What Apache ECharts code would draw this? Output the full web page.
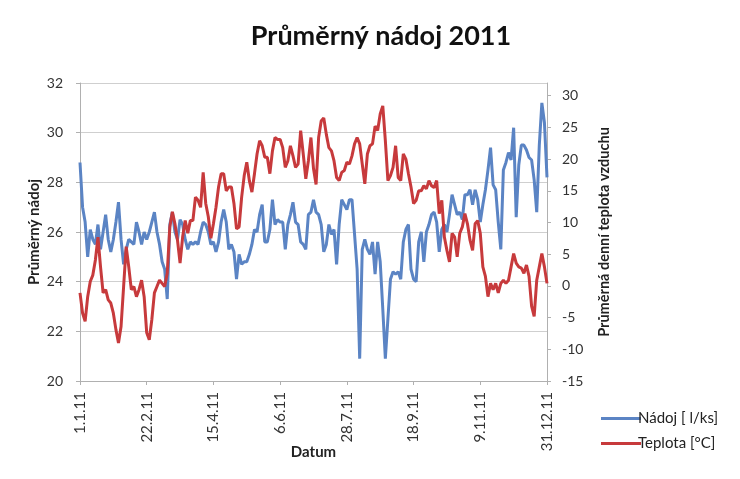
<!DOCTYPE html>
<html>
<head>
<meta charset="utf-8">
<script src="https://cdn.jsdelivr.net/npm/echarts@6/dist/echarts.min.js"></script>
<style>
html,body{margin:0;padding:0;background:#fff;}
#chart{width:740px;height:479px;}
</style>
</head>
<body>
<div id="chart"></div>
<script>
// Sample every 2 days from 1.1.2011 (day 0) to 31.12.2011 (day 364)
const tickLabels = ['1.1.11','22.2.11','15.4.11','6.6.11','28.7.11','18.9.11','9.11.11','31.12.11'];
const sampleStepDays = 2;
const nadoj = [
28.8,27.0,26.4,25.0,26.1,25.7,25.5,26.3,25.3,26.0,
26.7,25.7,25.2,25.7,26.4,27.2,25.7,24.7,25.3,25.7,
25.6,25.5,26.4,26.0,25.5,26.0,25.7,26.0,26.4,26.8,
26.0,25.5,24.8,24.5,23.3,26.3,26.8,26.0,25.7,26.5,
26.3,25.7,25.3,25.6,25.5,25.6,25.5,26.0,26.4,26.3,
26.0,25.5,25.6,25.2,25.6,26.4,26.9,26.4,25.3,25.5,
25.2,24.1,25.1,24.7,24.8,24.8,25.1,25.5,26.1,26.0,
26.7,27.1,25.6,25.6,26.1,27.3,26.3,26.5,26.4,26.4,
25.3,26.3,26.7,27.2,26.4,26.3,25.6,25.5,25.3,26.7,
26.8,27.3,26.8,26.7,26.3,25.2,25.5,26.3,25.9,26.1,
24.7,26.3,27.3,27.1,26.9,27.3,27.3,25.9,24.5,20.9,
25.3,25.7,25.3,25.1,25.6,24.3,25.6,24.8,22.9,20.9,
22.5,24.1,24.4,24.3,24.4,24.1,25.6,26.1,26.3,24.5,
24.1,24.0,25.6,26.0,24.8,26.0,26.3,26.7,26.8,26.4,
25.2,26.1,26.3,26.0,26.7,27.5,27.1,26.7,26.8,26.5,
27.5,27.5,27.7,27.1,27.7,27.3,26.4,27.1,27.7,28.5,
29.4,27.9,27.7,26.4,25.3,28.5,28.8,29.2,28.9,30.2,
26.6,28.7,29.5,29.5,29.3,29.0,28.9,28.1,26.8,29.5,
31.2,30.4,28.2
];
const teplota = [
-1.1,-4.3,-5.6,-1.7,0.7,1.7,4.1,7.7,3.0,-1.1,
-0.6,-2.2,-2.7,-4.3,-6.9,-9.0,-6.4,-0.1,6.2,3.0,
-0.6,-0.1,-1.7,-0.6,0.9,-1.7,-7.4,-8.5,-5.3,-1.1,
-0.1,0.9,0.4,-0.1,2.0,9.3,11.7,9.8,7.2,3.6,
7.7,10.3,8.3,10.3,10.3,14.0,13.5,12.4,17.9,13.0,
10.9,7.5,9.8,12.4,15.6,17.7,17.7,15.0,15.6,15.6,
13.0,9.0,9.3,14.0,17.4,19.5,16.6,14.8,17.7,20.8,
22.9,22.1,20.3,20.3,17.7,21.3,23.4,23.1,23.1,21.8,
18.7,19.7,22.1,20.5,18.7,19.2,24.5,20.8,16.9,19.7,
23.4,18.5,16.0,23.4,26.0,26.5,23.9,21.8,21.3,19.7,
17.1,16.6,17.9,18.2,19.5,19.2,20.5,22.4,23.4,22.4,
19.2,16.1,20.8,22.1,22.4,25.2,24.5,27.1,28.4,22.9,
16.6,17.4,18.7,22.1,17.1,16.6,20.8,20.0,17.7,15.6,
13.0,13.5,15.0,15.0,15.8,15.3,16.6,15.8,15.5,16.6,
11.4,13.5,7.7,5.6,3.8,8.3,7.7,4.6,8.3,9.3,
11.4,9.8,7.2,5.6,9.8,10.3,8.3,3.0,1.5,-1.7,
0.4,-0.6,0.4,-1.1,0.4,0.9,0.4,0.9,3.0,5.1,
3.6,3.0,2.8,2.0,3.3,1.5,-3.2,-4.8,0.9,3.0,
5.1,3.0,0.4
];
const seriesNames = ['Nádoj [ l/ks]', 'Teplota [°C]'];
const rightAxisTitle = 'Průměrná denní teplota vzduchu';

const toPairs = arr => arr.map((v, i) => [i * sampleStepDays, v]);
const FONT = 'Lato, "Open Sans", sans-serif';

const chart = echarts.init(document.getElementById('chart'), null, {renderer: 'canvas'});
chart.setOption({
  animation: false,
  backgroundColor: '#ffffff',
  title: {
    text: 'Průměrný nádoj 2011',
    left: 376, top: 18, textAlign: 'center',
    textStyle: {fontFamily: FONT, fontWeight: 'bold', fontSize: 27, color: '#111'}
  },
  graphic: [{
    type: 'text', x: 604, y: 232, rotation: Math.PI / 2,
    style: {text: rightAxisTitle, fontFamily: FONT, fontWeight: 'bold', fontSize: 14.5,
            fill: '#222', align: 'center', verticalAlign: 'middle'}
  }],
  legend: {
    orient: 'vertical', left: 596, top: 406, itemGap: 10,
    itemWidth: 40, itemHeight: 3, icon: 'rect',
    textStyle: {fontFamily: FONT, fontSize: 15, color: '#222', padding: [0,0,0,-8]},
    data: seriesNames
  },
  grid: {left: 80, right: 193, top: 83, bottom: 98, containLabel: false},
  xAxis: {
    type: 'value', min: 0, max: 364, interval: 52,
    name: 'Datum', nameLocation: 'middle', nameGap: 64, nameMoveOverlap: false,
    nameTextStyle: {fontFamily: FONT, fontWeight: 'bold', fontSize: 15, color: '#222'},
    axisLine: {onZero: false, lineStyle: {color: '#b0b0b0'}},
    axisTick: {show: true, length: 4, lineStyle: {color: '#b0b0b0'}},
    splitLine: {show: false},
    axisLabel: {
      rotate: 90, fontFamily: FONT, fontSize: 15, color: '#333', margin: 11,
      formatter: v => tickLabels[Math.round(v / 52)] || ''
    }
  },
  yAxis: [
    {
      type: 'value', min: 20, max: 32, interval: 2, position: 'left',
      name: 'Průměrný nádoj', nameLocation: 'middle', nameGap: 38, nameRotate: 90, nameMoveOverlap: false,
      nameTextStyle: {fontFamily: FONT, fontWeight: 'bold', fontSize: 15, color: '#222'},
      axisLine: {show: true, lineStyle: {color: '#b0b0b0'}},
      axisTick: {show: true, length: 4, lineStyle: {color: '#b0b0b0'}},
      axisLabel: {fontFamily: FONT, fontSize: 14, color: '#333', margin: 17},
      splitLine: {lineStyle: {color: '#cfcfcf'}}
    },
    {
      type: 'value', min: -15, max: 32, interval: 5, position: 'right',
      axisLine: {show: true, lineStyle: {color: '#b0b0b0'}},
      axisTick: {show: true, length: 4, lineStyle: {color: '#b0b0b0'}},
      axisLabel: {fontFamily: FONT, fontSize: 14, color: '#333', margin: 15, showMaxLabel: false},
      splitLine: {show: false}
    }
  ],
  series: [
    {
      name: seriesNames[0], type: 'line', yAxisIndex: 0, data: toPairs(nadoj),
      showSymbol: false, symbol: 'none',
      lineStyle: {color: '#5b84c4', width: 3}, itemStyle: {color: '#5b84c4'}, z: 2
    },
    {
      name: seriesNames[1], type: 'line', yAxisIndex: 1, data: toPairs(teplota),
      showSymbol: false, symbol: 'none',
      lineStyle: {color: '#c73a3c', width: 3}, itemStyle: {color: '#c73a3c'}, z: 3
    }
  ]
});
</script>
</body>
</html>
